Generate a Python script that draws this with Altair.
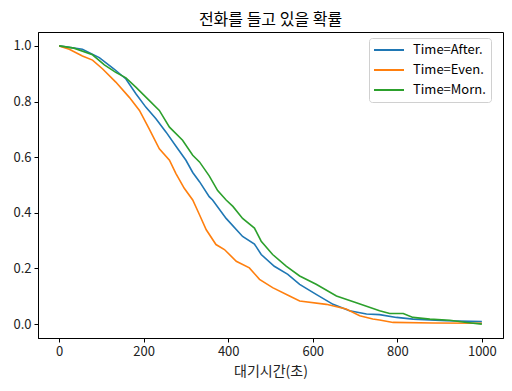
import altair as alt
import pandas as pd

after_t = [0, 55, 95, 130, 158, 182, 205, 229, 253, 276, 300, 316, 332, 355, 363, 395, 434, 462, 478, 509, 541, 569, 608, 648, 687, 727, 758, 798, 837, 877, 916, 1000]
after_s = [1.0, 0.988, 0.958, 0.917, 0.881, 0.827, 0.780, 0.738, 0.690, 0.640, 0.589, 0.545, 0.512, 0.458, 0.446, 0.380, 0.315, 0.288, 0.250, 0.208, 0.179, 0.143, 0.107, 0.071, 0.048, 0.036, 0.034, 0.024, 0.018, 0.015, 0.012, 0.009]

even_t = [0, 24, 55, 79, 103, 134, 166, 190, 213, 237, 261, 276, 296, 316, 332, 348, 371, 391, 419, 450, 474, 505, 545, 569, 632, 679, 711, 742, 758, 790, 885, 1000]
even_s = [1.0, 0.988, 0.964, 0.949, 0.917, 0.870, 0.815, 0.768, 0.702, 0.630, 0.589, 0.542, 0.488, 0.446, 0.393, 0.339, 0.286, 0.268, 0.226, 0.202, 0.161, 0.131, 0.101, 0.083, 0.071, 0.054, 0.030, 0.018, 0.015, 0.006, 0.004, 0.003]

morn_t = [0, 35, 79, 107, 134, 158, 182, 213, 237, 261, 292, 316, 332, 355, 375, 395, 411, 434, 462, 478, 505, 537, 569, 608, 656, 703, 758, 782, 814, 837, 877, 924, 964, 1000]
morn_s = [1.0, 0.992, 0.968, 0.932, 0.905, 0.885, 0.851, 0.804, 0.768, 0.708, 0.661, 0.607, 0.583, 0.533, 0.480, 0.446, 0.423, 0.380, 0.345, 0.298, 0.250, 0.208, 0.173, 0.143, 0.101, 0.077, 0.048, 0.038, 0.038, 0.024, 0.018, 0.014, 0.006, 0.0]

labels = ["Time=After.", "Time=Even.", "Time=Morn."]
colors = ["#1f77b4", "#ff7f0e", "#2ca02c"]

rows = []
for lab, ts, ss in zip(labels, [after_t, even_t, morn_t], [after_s, even_s, morn_s]):
    for i, (t, s) in enumerate(zip(ts, ss)):
        rows.append({"t": t, "s": s, "series": lab, "i": i})
df = pd.DataFrame(rows)

font = "Noto Sans CJK KR"

chart = alt.Chart(df).mark_line(strokeWidth=1.6).encode(
    x=alt.X("t:Q", scale=alt.Scale(domain=[-50, 1050], nice=False, zero=False),
            axis=alt.Axis(values=[0, 200, 400, 600, 800, 1000], format="d", title="대기시간(초)",
                          labelPadding=3, titlePadding=6)),
    y=alt.Y("s:Q", scale=alt.Scale(domain=[-0.05, 1.05], nice=False, zero=False),
            axis=alt.Axis(values=[0, 0.2, 0.4, 0.6, 0.8, 1.0], format=".1f", title=None,
                          labelPadding=3)),
    color=alt.Color("series:N", scale=alt.Scale(domain=labels, range=colors),
                    legend=alt.Legend(title=None, orient="none", legendX=331, legendY=6,
                                      symbolType="M-2.5,0H2.5", symbolSize=144, symbolStrokeWidth=2,
                                      symbolOffset=8,
                                      labelFontSize=13, labelFont=font, rowPadding=6,
                                      padding=5, strokeColor="#d0d0d0", fillColor="white",
                                      cornerRadius=3, labelOffset=17, labelLimit=200)),
    order="i:Q",
    detail="series:N",
).properties(
    width=465, height=306,
    title=alt.TitleParams("전화를 들고 있을 확률", fontSize=16, font=font, fontWeight="normal",
                          offset=4, color="black"),
    autosize=alt.AutoSizeParams(type="none"),
    padding={"left": 30, "top": 24, "right": 1, "bottom": 45},
).configure_view(
    stroke="black", strokeWidth=1
).configure_axis(
    grid=False, domainColor="black", tickColor="black", tickSize=4,
    labelFont=font, titleFont=font, labelFontSize=13, titleFontSize=14,
    labelColor="#222", titleColor="#222", titleFontWeight="normal", domain=True
)

chart.save("out.html", embed_options={"renderer": "svg", "actions": False})
